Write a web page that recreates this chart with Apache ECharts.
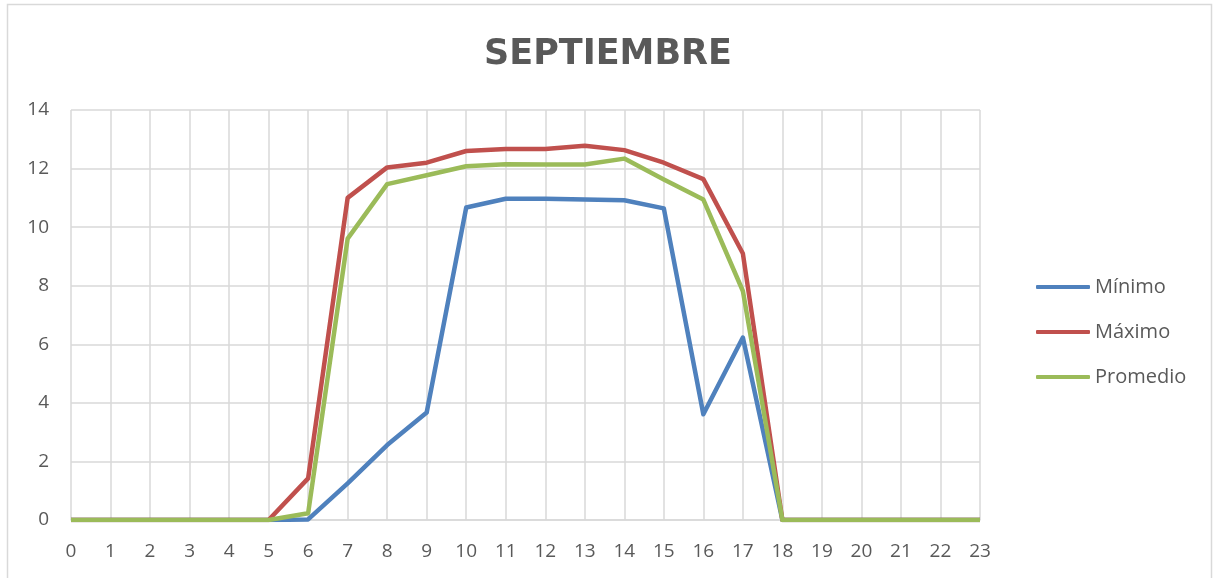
<!DOCTYPE html>
<html>
<head>
<meta charset="utf-8">
<title>Septiembre</title>
<script src="https://cdn.jsdelivr.net/npm/echarts@6/dist/echarts.min.js"></script>
<style>
  html, body { margin: 0; padding: 0; background: #fff; }
  #chart { width: 1216px; height: 578px; }
</style>
</head>
<body>
<div id="chart"></div>
<script>
//horas del dia
var horas = [];
for (var h = 0; h < 24; h++) { horas.push(String(h)); }
//valores
var minimo   = [0, 0, 0, 0, 0, 0, 0.02, 1.25, 2.56, 3.67, 10.67, 10.97, 10.97, 10.94, 10.92, 10.64, 3.61, 6.23, 0, 0, 0, 0, 0, 0];
var maximo   = [0, 0, 0, 0, 0, 0, 1.42, 11.0, 12.04, 12.2, 12.6, 12.67, 12.67, 12.78, 12.63, 12.2, 11.64, 9.1, 0, 0, 0, 0, 0, 0];
var promedio = [0, 0, 0, 0, 0, 0, 0.23, 9.61, 11.47, 11.77, 12.08, 12.15, 12.14, 12.14, 12.34, 11.63, 10.94, 7.82, 0, 0, 0, 0, 0, 0];

var FONT = '"Open Sans", "Noto Sans", sans-serif';
var GRIS = '#595959';

var myChart = echarts.init(document.getElementById('chart'));

function linea(nombre, datos, color) {
    return {
        name: nombre,
        type: 'line',
        data: datos,
        symbol: 'none',
        lineStyle: { width: 4.5, color: color, join: 'round' },
        itemStyle: { color: color },
        animation: false
    };
}

var option = {
    backgroundColor: '#fff',
    animation: false,
    title: {
        text: 'SEPTIEMBRE',
        left: 'center',
        top: 32,
        textStyle: {
            fontFamily: '"DejaVu Sans", sans-serif',
            fontSize: 35,
            fontWeight: 'bold',
            color: GRIS
        }
    },
    //borde del area del grafico
    graphic: [{
        type: 'rect',
        shape: { x: 7.5, y: 4.5, width: 1204, height: 600 },
        style: { fill: 'none', stroke: '#d9d9d9', lineWidth: 1.5 },
        silent: true
    }],
    legend: {
        orient: 'vertical',
        left: 1031,
        top: 272,
        icon: 'roundRect',
        itemWidth: 54,
        itemHeight: 4,
        itemGap: 25,
        textStyle: { fontFamily: FONT, fontSize: 20, color: GRIS },
        data: ['Mínimo', 'Máximo', 'Promedio']
    },
    grid: {
        left: 71,
        right: 236,
        top: 110,
        bottom: 58,
        containLabel: false
    },
    xAxis: {
        type: 'category',
        boundaryGap: false,
        data: horas,
        axisLine: { show: true, lineStyle: { color: '#d9d9d9', width: 1.5 } },
        axisTick: { show: false },
        axisLabel: {
            fontFamily: FONT, fontSize: 19, color: GRIS,
            margin: 22, interval: 0
        },
        splitLine: { show: true, lineStyle: { color: '#d9d9d9', width: 1.5 } }
    },
    yAxis: {
        type: 'value',
        min: 0,
        max: 14,
        interval: 2,
        axisLine: { show: false },
        axisTick: { show: false },
        axisLabel: { fontFamily: FONT, fontSize: 19, color: GRIS, margin: 22 },
        splitLine: { show: true, lineStyle: { color: '#d9d9d9', width: 1.5 } }
    },
    series: [
        linea('Mínimo', minimo, '#4f81bd'),
        linea('Máximo', maximo, '#c0504d'),
        linea('Promedio', promedio, '#9bbb59')
    ]
};
myChart.setOption(option);
</script>
</body>
</html>
